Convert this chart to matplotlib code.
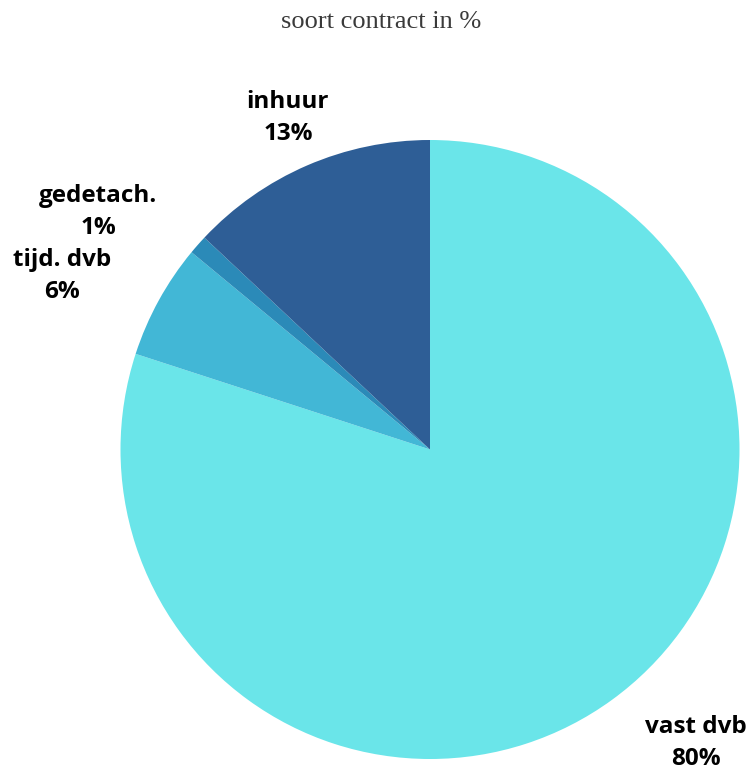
import matplotlib
matplotlib.use('Agg')
import matplotlib.pyplot as plt

labels = ['vast dvb', 'tijd. dvb', 'gedetach.', 'inhuur']
values = [80, 6, 1, 13]
colors = ['#6ae5e9', '#42b7d6', '#2b8ab8', '#2e5e96']

W, H = 752, 772
fig = plt.figure(figsize=(W/100, H/100), dpi=100)
ax = fig.add_axes([0, 0, 1, 1])

# pie in pixel coordinates (image y flipped)
cx, cy, r = 430, H - 449.5, 309.5
ax.pie(values, colors=colors, startangle=90, counterclock=False,
       center=(cx, cy), radius=r, frame=True,
       wedgeprops=dict(linewidth=0))
ax.set_xlim(0, W)
ax.set_ylim(0, H)
ax.axis('off')

# label placement (image pixel coords)
label_pos = {'vast dvb': (696, 743), 'tijd. dvb': (62, 276),
             'gedetach.': (98, 212), 'inhuur': (288, 118)}
for lab, v in zip(labels, values):
    x, y = label_pos[lab]
    ax.text(x, H - y, f'{lab}\n{v}%', ha='center', va='center',
            multialignment='center', fontsize=17.5, fontweight='bold',
            family=['Open Sans', 'DejaVu Sans'], linespacing=1.42, color='#000000')

fig.text(381/W, 1 - 28/H, 'soort contract in %', ha='center', va='baseline',
         fontsize=19, family=['Liberation Serif', 'DejaVu Serif'], color='#3a3a3a')

fig.savefig('out.png', dpi=100)
